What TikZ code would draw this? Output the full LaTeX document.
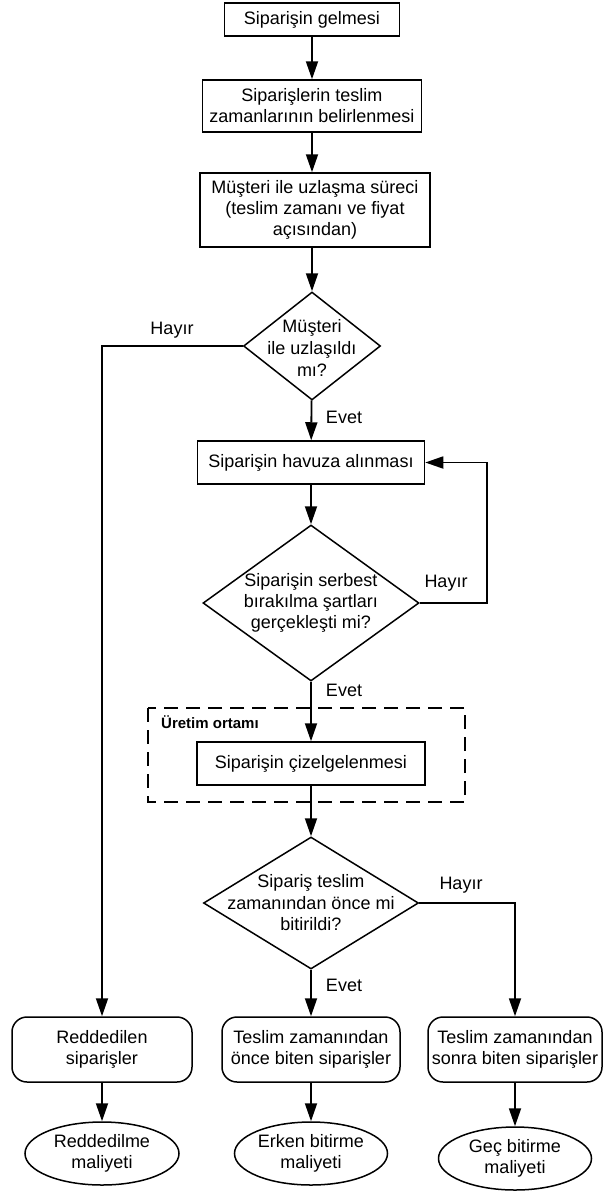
\documentclass[tikz,border=0pt]{standalone}
\usepackage{fontspec}
\setmainfont{Liberation Sans}
\usetikzlibrary{arrows.meta,shapes.geometric,calc}

\tikzset{
  base/.style={line width=1.5pt, align=center, inner sep=0pt},
  procbox/.style={base, draw, rectangle},
  roundbox/.style={base, draw, rectangle, rounded corners=15pt},
  endoval/.style={base, draw, ellipse},
  decision/.style={base, draw, diamond},
  flow/.style={line width=1.8pt, -{Triangle[length=18pt,width=12pt]}},
  tag/.style={inner sep=0pt},
  zone/.style={line width=1.5pt, dash pattern=on 14pt off 8pt},
}

\begin{document}
\begin{tikzpicture}[x=1pt, y=-1pt, font={\fontsize{18}{21}\selectfont}]
\useasboundingbox (0,0) rectangle (603,1191);

% main column
\node[procbox, minimum width=175pt, minimum height=33pt] (b1) at (312,19.5) {Siparişin gelmesi};
\node[procbox, minimum width=219pt, minimum height=52pt] (b2) at (312,106) {Siparişlerin teslim\\zamanlarının belirlenmesi};
\node[procbox, minimum width=230pt, minimum height=74pt] (b3) at (315,210) {Müşteri ile uzlaşma süreci\\(teslim zamanı ve fiyat\\açısından)};

\node[decision, minimum width=137pt, minimum height=108pt] (d1) at (312,346) {};
\node[tag, align=center, font={\fontsize{18}{22}\selectfont}] (d1t) at (312,347.5) {Müşteri\\ile uzlaşıldı\\mı?};

\node[procbox, minimum width=227pt, minimum height=43pt] (b4) at (311,462.5) {Siparişin havuza alınması};

\node[decision, minimum width=216pt, minimum height=156pt] (d2) at (311,603) {};
\node[tag, align=center, font={\fontsize{18}{21}\selectfont}] (d2t) at (311,603) {Siparişin serbest\\bırakılma şartları\\gerçekleşti mi?};

% production environment
\draw[zone] (148,708) rectangle (465,802);
\node[tag, anchor=west, font={\fontsize{15}{17}\selectfont\bfseries}] (zonet) at (161,722) {Üretim ortamı};
\node[procbox, minimum width=228pt, minimum height=43pt] (b5) at (311,763.5) {Siparişin çizelgelenmesi};

\node[decision, minimum width=215pt, minimum height=132pt] (d3) at (311,903) {};
\node[tag, align=center, font={\fontsize{18}{21.5}\selectfont}] (d3t) at (311,903) {Sipariş teslim\\zamanından önce mi\\bitirildi?};

% outcomes
\node[roundbox, minimum width=180pt, minimum height=65pt] (r1) at (102,1049.5) {Reddedilen\\siparişler};
\node[roundbox, minimum width=178pt, minimum height=65pt] (r2) at (311,1049.5) {Teslim zamanından\\önce biten siparişler};
\node[roundbox, minimum width=174pt, minimum height=65pt] (r3) at (515,1049.5) {Teslim zamanından\\sonra biten siparişler};

\node[endoval, minimum width=154pt, minimum height=63pt] (e1) at (102,1153.5) {Reddedilme\\maliyeti};
\node[endoval, minimum width=153pt, minimum height=63pt] (e2) at (311,1153.5) {Erken bitirme\\maliyeti};
\node[endoval, minimum width=153pt, minimum height=63pt] (e3) at (515,1158.5) {Geç bitirme\\maliyeti};

% connectors
\draw[flow] (b1) -- (b2);
\draw[flow] (b2.south) -- (b2.south |- b3.north);
\draw[flow] (d1.north |- b3.south) -- (d1.north);
\draw[flow] (d1) -- (b4);
\draw[flow] (b4) -- (d2);
\draw[flow] (d2) -- (b5);
\draw[flow] (b5) -- (d3);
\draw[flow] (d3) -- (r2);
\draw[flow] (d1.west) -| (r1.north);
\draw[flow] (d2.east) -- ++(67,0) |- (b4.east);
\draw[flow] (d3.east) -| (r3.north);
\draw[flow] (r1) -- (e1);
\draw[flow] (r2) -- (e2);
\draw[flow] (r3) -- (e3);

% branch labels
\node[tag] (l1) at (172,330) {Hayır};
\node[tag] (l2) at (344,417) {Evet};
\node[tag] (l3) at (446,583) {Hayır};
\node[tag] (l4) at (344,690) {Evet};
\node[tag] (l5) at (461,885) {Hayır};
\node[tag] (l6) at (344,985) {Evet};
\end{tikzpicture}
\end{document}
